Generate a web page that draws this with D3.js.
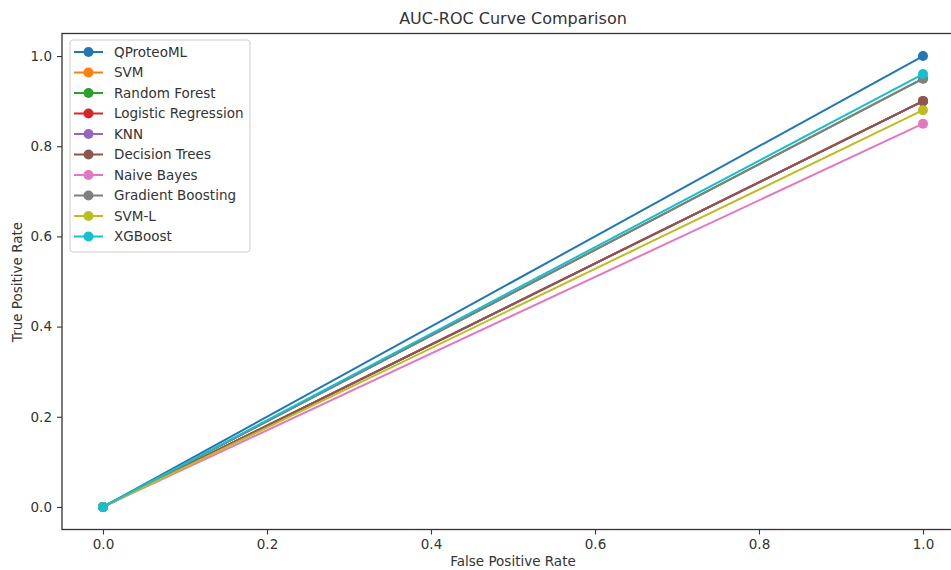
<!DOCTYPE html>
<html>
<head>
<meta charset="utf-8">
<script src="https://cdn.jsdelivr.net/npm/d3@7"></script>
<style>
  html, body { margin: 0; padding: 0; background: #fff; }
  svg { display: block; font-family: "DejaVu Sans", sans-serif; }
</style>
</head>
<body>
<svg id="chart" width="951" height="570"></svg>
<script>
// Model names, in plotting order (later models are drawn on top)
const models = ["QProteoML", "SVM", "Random Forest", "Logistic Regression", "KNN",
                "Decision Trees", "Naive Bayes", "Gradient Boosting", "SVM-L", "XGBoost"];
// Each curve runs from (0, 0) to (1, tpr)
const fprPoints = [0, 1];
const tprEnd = [1.00, 0.90, 0.95, 0.90, 0.90, 0.90, 0.85, 0.95, 0.88, 0.96];
const colors = ["#1f77b4", "#ff7f0e", "#2ca02c", "#d62728", "#9467bd",
                "#8c564b", "#e377c2", "#7f7f7f", "#bcbd22", "#17becf"];
const xTicks = [0.0, 0.2, 0.4, 0.6, 0.8, 1.0];
const yTicks = [0.0, 0.2, 0.4, 0.6, 0.8, 1.0];

const svg = d3.select("#chart");
const plot = { left: 62, right: 964, top: 33.5, bottom: 529.5 };

const x = d3.scaleLinear().domain([-0.05, 1.05]).range([plot.left, plot.right]);
const y = d3.scaleLinear().domain([-0.05, 1.05]).range([plot.bottom, plot.top]);

const axisColor = "#333";
const textColor = "#333";

// Axes
const xAxis = svg.append("g")
  .attr("transform", `translate(0,${plot.bottom})`)
  .call(d3.axisBottom(x).tickValues(xTicks).tickFormat(d3.format(".1f")).tickSizeOuter(0).tickSize(5).tickPadding(5));
const yAxis = svg.append("g")
  .attr("transform", `translate(${plot.left},0)`)
  .call(d3.axisLeft(y).tickValues(yTicks).tickFormat(d3.format(".1f")).tickSizeOuter(0).tickSize(5).tickPadding(5));
[xAxis, yAxis].forEach(g => {
  g.select(".domain").remove();
  g.selectAll("line").attr("stroke", axisColor).attr("stroke-width", 1.1);
  g.selectAll("text").attr("fill", textColor).style("font-size", "13.5px").style("font-family", "DejaVu Sans, sans-serif");
});

// Frame
svg.append("rect")
  .attr("x", plot.left).attr("y", plot.top)
  .attr("width", plot.right - plot.left).attr("height", plot.bottom - plot.top)
  .attr("fill", "none").attr("stroke", axisColor).attr("stroke-width", 1.3);

// Curves
const line = d3.line().x(d => x(d[0])).y(d => y(d[1]));
models.forEach((m, i) => {
  const pts = fprPoints.map((f, k) => [f, k === 0 ? 0 : tprEnd[i]]);
  const g = svg.append("g");
  g.append("path").datum(pts).attr("d", line)
    .attr("fill", "none").attr("stroke", colors[i]).attr("stroke-width", 2);
  g.selectAll("circle").data(pts).join("circle")
    .attr("cx", d => x(d[0])).attr("cy", d => y(d[1])).attr("r", 5)
    .attr("fill", colors[i]);
});

// Title and axis labels
svg.append("text").attr("x", 513).attr("y", 24).attr("text-anchor", "middle")
  .attr("fill", textColor).style("font-size", "16px").text("AUC-ROC Curve Comparison");
svg.append("text").attr("x", 513).attr("y", 566).attr("text-anchor", "middle")
  .attr("fill", textColor).style("font-size", "13.5px").text("False Positive Rate");
svg.append("text").attr("transform", "translate(22,282) rotate(-90)").attr("text-anchor", "middle")
  .attr("fill", textColor).style("font-size", "13.5px").text("True Positive Rate");

// Legend
const lg = svg.append("g").attr("transform", "translate(70,40)");
lg.append("rect").attr("x", 0).attr("y", 0).attr("width", 180).attr("height", 212)
  .attr("rx", 3).attr("fill", "#fff").attr("fill-opacity", 0.8)
  .attr("stroke", "#ccc").attr("stroke-width", 1);
models.forEach((m, i) => {
  const yy = 12 + i * 20.5;
  lg.append("line").attr("x1", 4).attr("x2", 33).attr("y1", yy).attr("y2", yy)
    .attr("stroke", colors[i]).attr("stroke-width", 2);
  lg.append("circle").attr("cx", 18.5).attr("cy", yy).attr("r", 5).attr("fill", colors[i]);
  lg.append("text").attr("x", 44).attr("y", yy).attr("dy", "0.35em")
    .attr("fill", textColor).style("font-size", "13.5px").text(m);
});
</script>
</body>
</html>
